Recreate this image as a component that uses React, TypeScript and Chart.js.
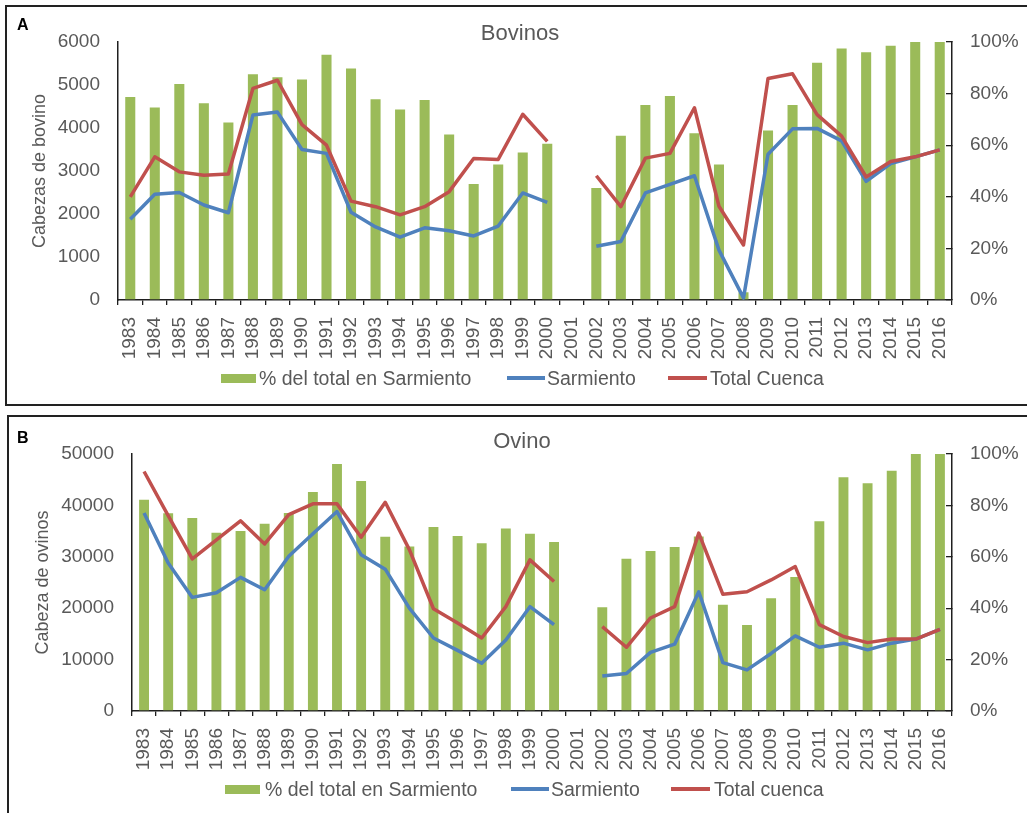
import React, { useEffect, useRef } from 'react';
import { Chart, registerables } from 'chart.js';

Chart.register(...registerables);

const years = [
  '1983', '1984', '1985', '1986', '1987', '1988', '1989', '1990', '1991', '1992',
  '1993', '1994', '1995', '1996', '1997', '1998', '1999', '2000', '2001', '2002',
  '2003', '2004', '2005', '2006', '2007', '2008', '2009', '2010', '2011', '2012',
  '2013', '2014', '2015', '2016',
];

// Panel A – Bovinos
const bovPct = [78.7, 74.6, 83.7, 76.3, 68.8, 87.5, 86.3, 85.5, 95.1, 89.7, 77.8, 73.8, 77.5, 64.1, 45.0, 52.5, 57.2, 60.6, null, 43.4, 63.7, 75.6, 79.1, 64.6, 52.5, 3, 65.7, 75.6, 92.0, 97.5, 96.0, 98.5, 100, 100];
const bovSarmiento = [1880, 2460, 2500, 2210, 2030, 4300, 4370, 3500, 3410, 2040, 1700, 1460, 1680, 1610, 1490, 1720, 2490, 2270, null, 1250, 1360, 2490, 2690, 2890, 1160, 50, 3390, 3980, 3990, 3700, 2760, 3170, 3330, 3490];
const bovTotal = [2400, 3330, 2980, 2900, 2930, 4920, 5110, 4080, 3600, 2300, 2170, 1980, 2170, 2520, 3290, 3270, 4320, 3690, null, 2890, 2170, 3300, 3410, 4470, 2180, 1280, 5150, 5260, 4310, 3810, 2860, 3220, 3330, 3490];

// Panel B – Ovino
const ovPct = [82.2, 76.9, 75.1, 69.4, 70.0, 72.9, 77.0, 85.2, 96.1, 89.5, 67.8, 64.0, 71.6, 68.1, 65.3, 71.0, 69.0, 65.8, null, 40.4, 59.2, 62.3, 63.8, 67.9, 41.3, 33.5, 43.9, 52.1, 73.8, 91.0, 88.6, 93.5, 100, 100];
const ovSarmiento = [38500, 28800, 22100, 23000, 26000, 23600, 30100, 34500, 38800, 30400, 27600, 20000, 14200, 11800, 9300, 13800, 20300, 16800, null, 6800, 7300, 11400, 13000, 23200, 9400, 8000, 11200, 14600, 12400, 13200, 11900, 13200, 14000, 15900];
const ovTotal = [46600, 38000, 29600, 33300, 37000, 32500, 38200, 40300, 40300, 33800, 40600, 31400, 19900, 17100, 14200, 20300, 29400, 25200, null, 16400, 12400, 18100, 20300, 34600, 22700, 23200, 25500, 28100, 16800, 14500, 13300, 14000, 14000, 15900];

const bovLeftMax = 6000;
const bovLeftStep = 1000;
const ovLeftMax = 50000;
const ovLeftStep = 10000;
const pctMax = 100;
const pctStep = 20;

const legendBar = '% del total en Sarmiento';
const legendSar = 'Sarmiento';
const legendTotA = 'Total Cuenca';
const legendTotB = 'Total cuenca';

const GREEN = '#9BBB59';
const BLUE = '#4F81BD';
const RED = '#C0504D';
const TEXT = '#595959';
const AXIS = '#1f1f1f';
const FONT = '"Liberation Sans", Arial, sans-serif';

type PanelParams = {
  pct: (number | null)[];
  sar: (number | null)[];
  tot: (number | null)[];
  totLabel: string;
  leftMax: number;
  leftStep: number;
  yTitle: string;
  padLeft: number;
  leftWidth: number;
  titlePad: number;
  padTop: number;
  padBottom: number;
  xHeight: number;
};

function buildConfig(p: PanelParams): any {
  return {
    type: 'bar',
    data: {
      labels: years,
      datasets: [
        {
          type: 'bar',
          label: legendBar,
          data: p.pct,
          backgroundColor: GREEN,
          yAxisID: 'y1',
          order: 3,
          barPercentage: 0.41,
          categoryPercentage: 1,
        },
        {
          type: 'line',
          label: legendSar,
          data: p.sar,
          borderColor: BLUE,
          backgroundColor: BLUE,
          borderWidth: 3.5,
          pointRadius: 0,
          tension: 0,
          spanGaps: false,
          borderJoinStyle: 'round',
          yAxisID: 'y',
          order: 2,
        },
        {
          type: 'line',
          label: p.totLabel,
          data: p.tot,
          borderColor: RED,
          backgroundColor: RED,
          borderWidth: 3.5,
          pointRadius: 0,
          tension: 0,
          spanGaps: false,
          borderJoinStyle: 'round',
          yAxisID: 'y',
          order: 1,
        },
      ],
    },
    options: {
      animation: false,
      responsive: false,
      maintainAspectRatio: false,
      events: [],
      layout: { padding: { left: p.padLeft, right: 0, top: p.padTop, bottom: p.padBottom } },
      font: { family: FONT },
      plugins: {
        title: { display: false },
        tooltip: { enabled: false },
        legend: { display: false },
      },
      scales: {
        x: {
          offset: true,
          grid: {
            display: true,
            drawOnChartArea: false,
            drawTicks: true,
            offset: true,
            tickLength: 5,
            color: AXIS,
            lineWidth: 1.3,
          },
          border: { display: true, color: AXIS, width: 1.5 },
          ticks: {
            minRotation: 90,
            maxRotation: 90,
            autoSkip: false,
            padding: 12,
            color: TEXT,
            font: { family: FONT, size: 19 },
          },
          afterFit: (s: any) => {
            s.height = p.xHeight;
          },
        },
        y: {
          position: 'left',
          min: 0,
          max: p.leftMax,
          ticks: {
            stepSize: p.leftStep,
            padding: 18,
            color: TEXT,
            font: { family: FONT, size: 19 },
            callback: (v: any) => String(v),
          },
          grid: { display: false, drawTicks: false },
          border: { display: true, color: AXIS, width: 1.5 },
          title: {
            display: true,
            text: p.yTitle,
            color: TEXT,
            font: { family: FONT, size: 18 },
            padding: { top: p.titlePad, bottom: 0 },
          },
          afterFit: (s: any) => {
            s.width = p.leftWidth;
          },
        },
        y1: {
          position: 'right',
          min: 0,
          max: pctMax,
          ticks: {
            stepSize: pctStep,
            padding: 24,
            color: TEXT,
            font: { family: FONT, size: 19 },
            callback: (v: any) => v + '%',
          },
          grid: {
            display: true,
            drawOnChartArea: false,
            drawTicks: true,
            tickLength: -6,
            color: AXIS,
            lineWidth: 1.3,
          },
          border: { display: true, color: AXIS, width: 1.5 },
          afterFit: (s: any) => {
            s.width = 75;
          },
        },
      },
    },
  };
}

function ChartCanvas(props: { params: PanelParams; left: number; top: number; width: number; height: number }) {
  const ref = useRef<HTMLCanvasElement | null>(null);
  useEffect(() => {
    if (!ref.current) return;
    const chart = new Chart(ref.current, buildConfig(props.params));
    return () => chart.destroy();
  }, []);
  return (
    <canvas
      ref={ref}
      width={props.width}
      height={props.height}
      style={{
        position: 'absolute',
        left: props.left,
        top: props.top,
        width: props.width,
        height: props.height,
      }}
    />
  );
}

const textStyle: React.CSSProperties = {
  position: 'absolute',
  fontFamily: FONT,
  whiteSpace: 'nowrap',
};

function Legend(props: {
  cy: number;
  boxX: number;
  text1X: number;
  line2X: number;
  text2X: number;
  line3X: number;
  text3X: number;
  totLabel: string;
}) {
  const { cy } = props;
  const lbl = (x: number, t: string) => (
    <div style={{ ...textStyle, left: x, top: cy - 11.5, fontSize: 19.5, lineHeight: '22px', color: TEXT }}>{t}</div>
  );
  return (
    <>
      <div style={{ position: 'absolute', left: props.boxX, top: cy - 4.5, width: 35, height: 9, background: GREEN }} />
      {lbl(props.text1X, legendBar)}
      <div style={{ position: 'absolute', left: props.line2X, top: cy - 1.75, width: 38, height: 3.5, background: BLUE }} />
      {lbl(props.text2X, legendSar)}
      <div style={{ position: 'absolute', left: props.line3X, top: cy - 1.75, width: 39, height: 3.5, background: RED }} />
      {lbl(props.text3X, props.totLabel)}
    </>
  );
}

export default function App() {
  const paramsA: PanelParams = {
    pct: bovPct,
    sar: bovSarmiento,
    tot: bovTotal,
    totLabel: legendTotA,
    leftMax: bovLeftMax,
    leftStep: bovLeftStep,
    yTitle: 'Cabezas de bovino',
    padLeft: 16,
    leftWidth: 96,
    titlePad: 7,
    padTop: 36,
    padBottom: 42,
    xHeight: 62,
  };
  const paramsB: PanelParams = {
    pct: ovPct,
    sar: ovSarmiento,
    tot: ovTotal,
    totLabel: legendTotB,
    leftMax: ovLeftMax,
    leftStep: ovLeftStep,
    yTitle: 'Cabeza de ovinos',
    padLeft: 15,
    leftWidth: 109,
    titlePad: 9,
    padTop: 38,
    padBottom: 40,
    xHeight: 62,
  };
  return (
    <div
      style={{
        position: 'fixed',
        left: 0,
        top: 0,
        width: 1027,
        height: 813,
        overflow: 'hidden',
        background: '#ffffff',
      }}
    >
      <div
        style={{
          position: 'absolute',
          left: 5,
          top: 5,
          width: 1040,
          height: 397,
          border: '2px solid #222',
        }}
      />
      <div
        style={{
          position: 'absolute',
          left: 7,
          top: 415,
          width: 1040,
          height: 420,
          border: '2px solid #222',
        }}
      />
      <ChartCanvas params={paramsA} left={6} top={6} width={1021} height={398} />
      <ChartCanvas params={paramsB} left={8} top={416} width={1019} height={397} />
      <div style={{ ...textStyle, left: 17, top: 16.5, fontSize: 16, lineHeight: '16px', fontWeight: 'bold', color: '#000' }}>A</div>
      <div style={{ ...textStyle, left: 17, top: 429.5, fontSize: 16, lineHeight: '16px', fontWeight: 'bold', color: '#000' }}>B</div>
      <div style={{ ...textStyle, left: 420, width: 200, textAlign: 'center', top: 22.4, fontSize: 22, lineHeight: '22px', color: TEXT }}>Bovinos</div>
      <div style={{ ...textStyle, left: 422, width: 200, textAlign: 'center', top: 430.4, fontSize: 22, lineHeight: '22px', color: TEXT }}>Ovino</div>
      <Legend cy={378} boxX={221} text1X={259} line2X={507} text2X={547} line3X={668} text3X={710} totLabel={legendTotA} />
      <Legend cy={789} boxX={225} text1X={265} line2X={511} text2X={551} line3X={671} text3X={714} totLabel={legendTotB} />
    </div>
  );
}
